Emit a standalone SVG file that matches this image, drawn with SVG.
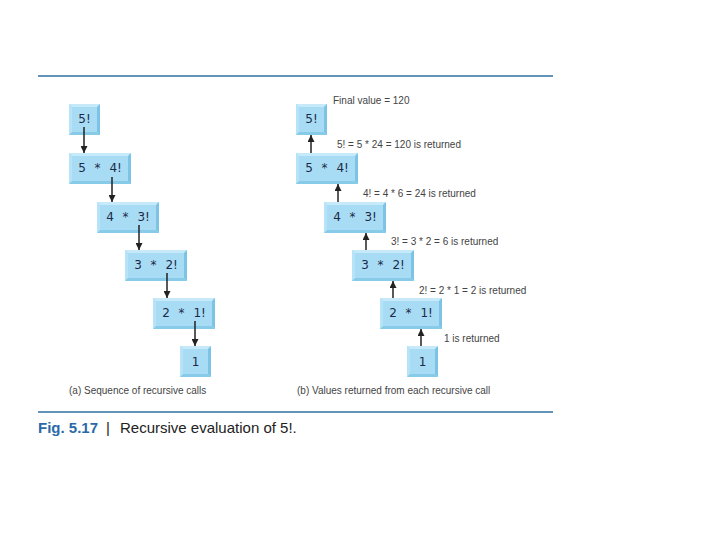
<svg xmlns="http://www.w3.org/2000/svg" width="720" height="540" viewBox="0 0 720 540">
<style>
.face{fill:#a8dcf4}
.bt{fill:#c6eafa}
.bl{fill:#b6e3f8}
.br{fill:#7cc3e6}
.bb{fill:#88cbe9}
.bx{font-family:"DejaVu Sans","Liberation Sans",sans-serif;font-size:12px;fill:#1c2a48;text-anchor:middle;word-spacing:5px}
.lb{font-family:"Liberation Sans","DejaVu Sans",sans-serif;font-size:10px;fill:#444}
.ar{stroke:#222;stroke-width:1.5;fill:none}
.rule{stroke:#2f6f9f;stroke-width:1.5}
</style>
<defs>
<marker id="ah" viewBox="0 0 10 10" refX="10" refY="5" markerWidth="9" markerHeight="7" markerUnits="userSpaceOnUse" orient="auto"><path d="M0,0 L10,5 L0,10 z" fill="#222"/></marker>
<g id="box31"><rect class="face" width="31" height="31"/><polygon class="bt" points="0,0 31,0 28,3 3,3"/><polygon class="bl" points="0,0 3,3 3,28 0,31"/><polygon class="br" points="31,0 31,31 28,28 28,3"/><polygon class="bb" points="0,31 31,31 28,28 3,28"/></g>
<g id="box62"><rect class="face" width="62" height="31"/><polygon class="bt" points="0,0 62,0 59,3 3,3"/><polygon class="bl" points="0,0 3,3 3,28 0,31"/><polygon class="br" points="62,0 62,31 59,28 59,3"/><polygon class="bb" points="0,31 62,31 59,28 3,28"/></g>
</defs>
<rect width="720" height="540" fill="#fff"/>
<line class="rule" x1="38" y1="76" x2="553" y2="76"/>
<line class="rule" x1="38" y1="412" x2="553" y2="412"/>

<g id="a5"><use href="#box31" x="69" y="104"/><text class="bx" x="84.5" y="123">5!</text></g>
<g id="a54"><use href="#box62" x="69" y="153"/><text class="bx" x="100" y="172">5 * 4!</text></g>
<g id="a43"><use href="#box62" x="97" y="202"/><text class="bx" x="128" y="221">4 * 3!</text></g>
<g id="a32"><use href="#box62" x="125" y="250"/><text class="bx" x="156" y="269">3 * 2!</text></g>
<g id="a21"><use href="#box62" x="153" y="298"/><text class="bx" x="184" y="317">2 * 1!</text></g>
<g id="a1"><use href="#box31" x="180" y="346"/><text class="bx" x="195.5" y="366">1</text></g>

<g id="b5"><use href="#box31" x="296" y="104"/><text class="bx" x="311.5" y="123">5!</text></g>
<g id="b54"><use href="#box62" x="296" y="153"/><text class="bx" x="327" y="172">5 * 4!</text></g>
<g id="b43"><use href="#box62" x="324" y="202"/><text class="bx" x="355" y="221">4 * 3!</text></g>
<g id="b32"><use href="#box62" x="352" y="250"/><text class="bx" x="383" y="269">3 * 2!</text></g>
<g id="b21"><use href="#box62" x="380" y="298"/><text class="bx" x="411" y="317">2 * 1!</text></g>
<g id="b1"><use href="#box31" x="407" y="346"/><text class="bx" x="422.5" y="366">1</text></g>

<g id="connectors">
<line class="ar" x1="84" y1="127" x2="84" y2="153" marker-end="url(#ah)"/>
<line class="ar" x1="112" y1="177" x2="112" y2="202" marker-end="url(#ah)"/>
<line class="ar" x1="139" y1="225" x2="139" y2="250" marker-end="url(#ah)"/>
<line class="ar" x1="167" y1="273" x2="167" y2="298" marker-end="url(#ah)"/>
<line class="ar" x1="195" y1="321" x2="195" y2="346" marker-end="url(#ah)"/>
<line class="ar" x1="311" y1="153" x2="311" y2="135" marker-end="url(#ah)"/>
<line class="ar" x1="338" y1="202" x2="338" y2="184" marker-end="url(#ah)"/>
<line class="ar" x1="366" y1="250" x2="366" y2="233" marker-end="url(#ah)"/>
<line class="ar" x1="393" y1="298" x2="393" y2="281" marker-end="url(#ah)"/>
<line class="ar" x1="421" y1="346" x2="421" y2="329" marker-end="url(#ah)"/>
</g>

<text class="lb" x="333" y="104">Final value = 120</text>
<text class="lb" x="337" y="148">5! = 5 * 24 = 120 is returned</text>
<text class="lb" x="363" y="197">4! = 4 * 6 = 24 is returned</text>
<text class="lb" x="391" y="245">3! = 3 * 2 = 6 is returned</text>
<text class="lb" x="419" y="294">2! = 2 * 1 = 2 is returned</text>
<text class="lb" x="444" y="342">1 is returned</text>
<text class="lb" x="69" y="394">(a) Sequence of recursive calls</text>
<text class="lb" x="297" y="394">(b) Values returned from each recursive call</text>

<text x="38" y="433" font-family="Liberation Sans,DejaVu Sans,sans-serif" font-size="15" font-weight="bold" fill="#2a6aa8">Fig. 5.17</text>
<text x="106" y="433" font-family="Liberation Sans,DejaVu Sans,sans-serif" font-size="15" fill="#222">|</text>
<text x="120" y="433" font-family="Liberation Sans,DejaVu Sans,sans-serif" font-size="15" fill="#222">Recursive evaluation of 5!.</text>
</svg>
